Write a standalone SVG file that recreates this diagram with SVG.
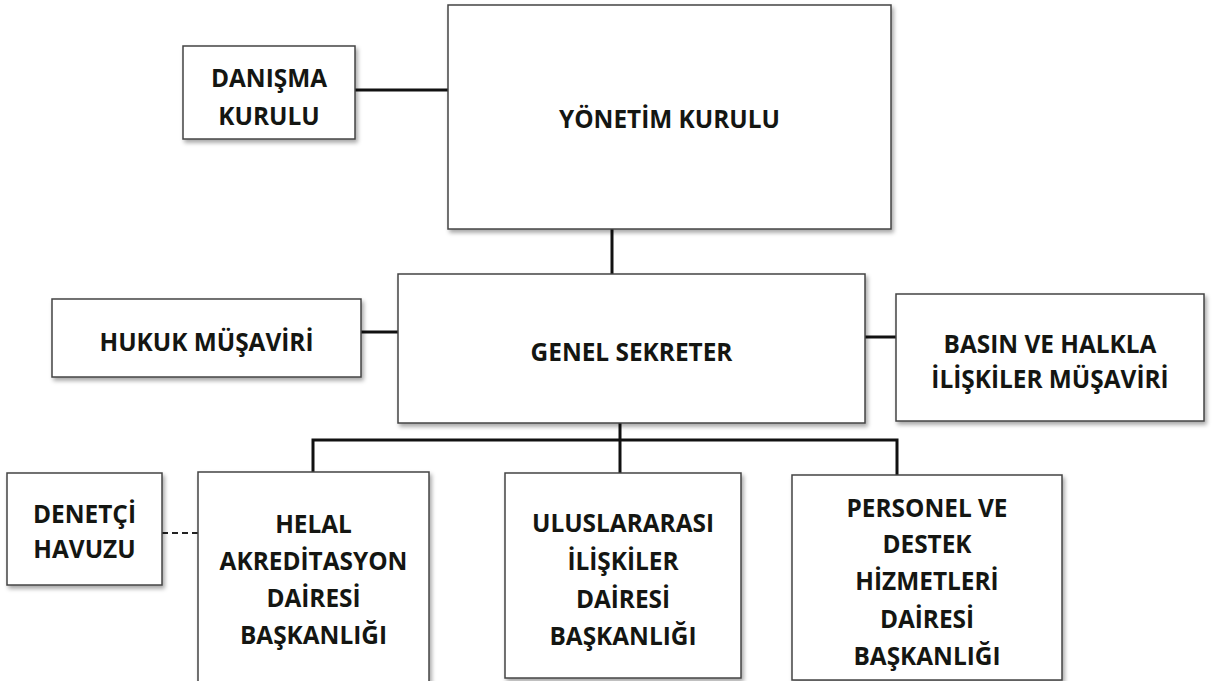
<svg xmlns="http://www.w3.org/2000/svg" width="1212" height="681" viewBox="0 0 1212 681">
<defs>
<filter id="sh" x="-10%" y="-10%" width="130%" height="130%">
<feDropShadow dx="2" dy="3" stdDeviation="2" flood-color="#000" flood-opacity="0.35"/>
</filter>
<style>
.box{fill:#fff;stroke:#444;stroke-width:1.5;filter:url(#sh)}
.t{font-family:"Open Sans","Noto Sans","Liberation Sans",sans-serif;font-weight:bold;font-size:24.4px;fill:#141612;text-anchor:middle;dominant-baseline:central}
.c{stroke:#111;stroke-width:3;fill:none}
.d{stroke:#222;stroke-width:1.8;stroke-dasharray:6 4;fill:none}
</style>
</defs>
<rect width="1212" height="681" fill="#fff"/>
<g id="connectors">
<line class="c" x1="355" y1="90" x2="448" y2="90"/>
<line class="c" x1="612" y1="229" x2="612" y2="274"/>
<line class="c" x1="361" y1="332" x2="398" y2="332"/>
<line class="c" x1="865" y1="337" x2="896" y2="337"/>
<line class="c" x1="620" y1="423" x2="620" y2="473"/>
<polyline class="c" points="313,472 313,440 897,440 897,475"/>
<line class="d" x1="162" y1="533" x2="198" y2="533"/>
</g>
<g id="yonetim-kurulu">
<rect class="box" x="448" y="5" width="443" height="224"/>
<text class="t" x="669.5" y="118">YÖNETİM KURULU</text>
</g>
<g id="danisma-kurulu">
<rect class="box" x="183" y="46" width="172" height="93"/>
<text class="t" x="269" y="77">DANIŞMA</text>
<text class="t" x="269" y="115">KURULU</text>
</g>
<g id="genel-sekreter">
<rect class="box" x="398" y="274" width="467" height="149"/>
<text class="t" x="631.5" y="351">GENEL SEKRETER</text>
</g>
<g id="hukuk-musaviri">
<rect class="box" x="52" y="299" width="309" height="78"/>
<text class="t" x="206.5" y="341">HUKUK MÜŞAVİRİ</text>
</g>
<g id="basin-musaviri">
<rect class="box" x="896" y="294" width="308" height="127"/>
<text class="t" x="1050" y="343">BASIN VE HALKLA</text>
<text class="t" x="1050" y="378">İLİŞKİLER MÜŞAVİRİ</text>
</g>
<g id="denetci-havuzu">
<rect class="box" x="7" y="473" width="155" height="112"/>
<text class="t" x="84.5" y="513">DENETÇİ</text>
<text class="t" x="84.5" y="548">HAVUZU</text>
</g>
<g id="helal-akreditasyon">
<rect class="box" x="198" y="472" width="231" height="220"/>
<text class="t" x="313.5" y="523">HELAL</text>
<text class="t" x="313.5" y="560">AKREDİTASYON</text>
<text class="t" x="313.5" y="597">DAİRESİ</text>
<text class="t" x="313.5" y="634">BAŞKANLIĞI</text>
</g>
<g id="uluslararasi-iliskiler">
<rect class="box" x="505" y="473" width="236" height="205"/>
<text class="t" x="623" y="522">ULUSLARARASI</text>
<text class="t" x="623" y="560">İLİŞKİLER</text>
<text class="t" x="623" y="598">DAİRESİ</text>
<text class="t" x="623" y="635">BAŞKANLIĞI</text>
</g>
<g id="personel-destek">
<rect class="box" x="792" y="475" width="270" height="205"/>
<text class="t" x="927" y="507">PERSONEL VE</text>
<text class="t" x="927" y="543">DESTEK</text>
<text class="t" x="927" y="580">HİZMETLERİ</text>
<text class="t" x="927" y="618">DAİRESİ</text>
<text class="t" x="927" y="655">BAŞKANLIĞI</text>
</g>
</svg>
